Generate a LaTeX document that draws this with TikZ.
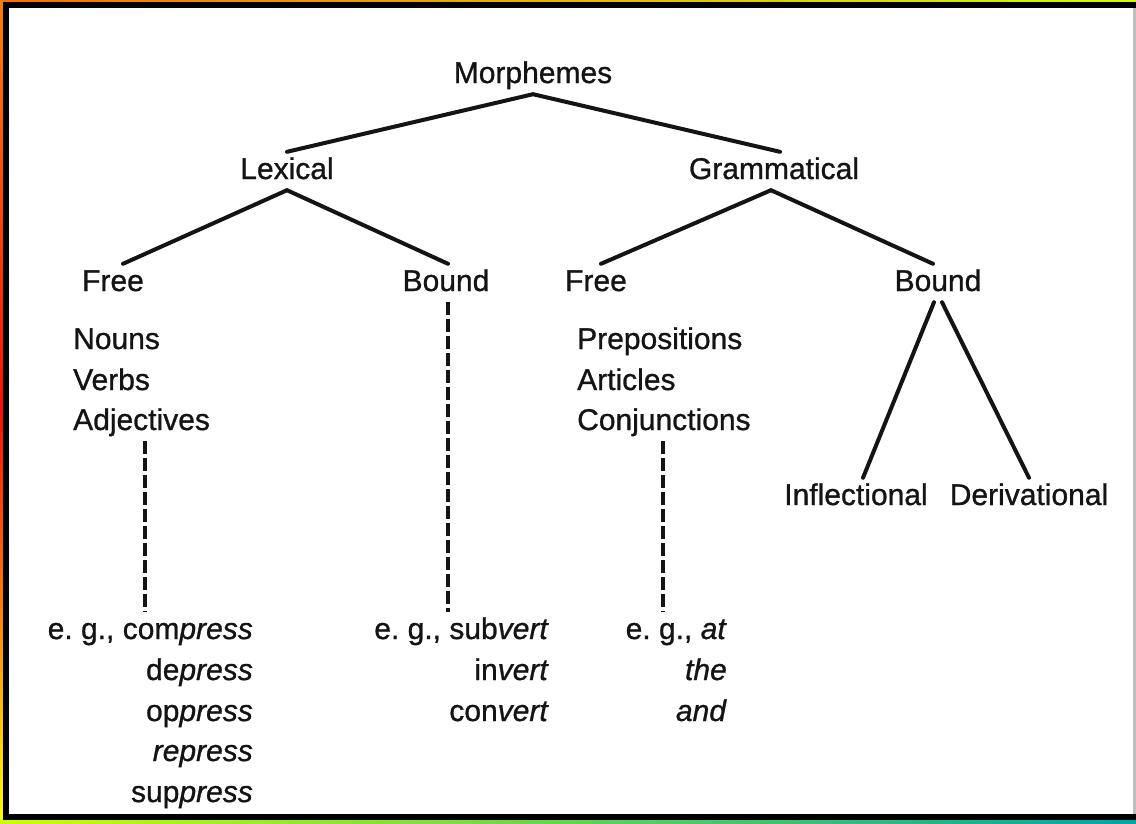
\documentclass[tikz,border=0pt]{standalone}
\usepackage{fontspec}
\setmainfont{Liberation Sans}[UprightFeatures={FakeBold=0.9}, ItalicFeatures={FakeBold=0.9}]
\begin{document}
\begin{tikzpicture}[x=1pt,y=-1pt,
  lbl/.style={font=\fontsize{30}{36}\selectfont, text=black!92, inner xsep=3pt, inner ysep=5pt, text height=22pt, text depth=6pt, anchor=base},
  lblL/.style={lbl, anchor=base west},
  lblR/.style={lbl, anchor=base east},
  branch/.style={line width=4pt, black!92, line cap=round},
  dashline/.style={line width=3.8pt, black!92, dash pattern=on 13pt off 4pt}
]
\useasboundingbox (0,0) rectangle (1136,823);
% coloured rim and frame
\shade[left color=orange!85!red, right color=yellow!80!green] (0,0) rectangle (1136,823);
\shade[top color=orange, bottom color=yellow, middle color=red!90!orange] (0,0) rectangle (3,823);
\shade[left color=yellow!80!green, right color=teal!70!cyan] (0,819) rectangle (1136,823);
\fill[black] (2.5,2) rectangle (1136,820);
\fill[white] (8.5,8) rectangle (1133,814);
\fill[black!25] (1133,8) rectangle (1136,814);

% tree nodes
\node[lbl] (morph) at (533,83) {Morphemes};
\node[lbl] (lex) at (287,179) {Lexical};
\node[lbl] (gram) at (774,179) {Grammatical};
\node[lbl] (free1) at (113,291) {Free};
\node[lbl] (bound1) at (446,291) {Bound};
\node[lbl] (free2) at (596,291) {Free};
\node[lbl] (bound2) at (938,291) {Bound};
\node[lbl] (infl) at (856,505) {Inflectional};
\node[lbl] (deri) at (1029,505) {Derivational};

% word classes
\node[lblL] (nouns) at (70,349) {Nouns};
\node[lblL] (verbs) at (70,390) {Verbs};
\node[lblL] (adj) at (70,430) {Adjectives};
\node[lblL] (prep) at (574,349) {Prepositions};
\node[lblL] (art) at (574,390) {Articles};
\node[lblL] (conj) at (574,430) {Conjunctions};

% examples
\node[lblR] (egA1) at (256,639) {e.\ g., com\textit{press}};
\node[lblR] (egA2) at (256,680) {de\textit{press}};
\node[lblR] (egA3) at (256,721) {op\textit{press}};
\node[lblR] (egA4) at (256,761) {\textit{repress}};
\node[lblR] (egA5) at (256,802) {sup\textit{press}};
\node[lblR] (egB1) at (552,639) {e.\ g., sub\textit{vert}};
\node[lblR] (egB2) at (552,680) {in\textit{vert}};
\node[lblR] (egB3) at (552,721) {con\textit{vert}};
\node[lblR] (egC1) at (730,639) {e.\ g., \textit{at}};
\node[lblR] (egC2) at (730,680) {\textit{the}};
\node[lblR] (egC3) at (730,721) {\textit{and}};

% branches
\draw[branch] (morph.south) -- (lex.north);
\draw[branch] (morph.south) -- ([xshift=6pt]gram.north);
\draw[branch] (lex.south) -- ([xshift=10pt]free1.north);
\draw[branch] (lex.south) -- ([xshift=2pt]bound1.north);
\draw[branch] ([xshift=-3pt]gram.south) -- ([xshift=5pt]free2.north);
\draw[branch] ([xshift=-3pt]gram.south) -- ([xshift=-5pt]bound2.north);
\draw[branch] ([xshift=-4pt]bound2.south) -- ([xshift=7pt]infl.north);
\draw[branch] ([xshift=4pt]bound2.south) -- (deri.north);

% dashed links to examples
\coordinate (colA) at (145,0);
\coordinate (colB) at (448,0);
\coordinate (colC) at (663,0);
\draw[dashline] (colA |- adj.south) -- (colA |- egA1.north);
\draw[dashline] (colB |- bound1.south) -- (colB |- egB1.north);
\draw[dashline] (colC |- conj.south) -- (colC |- egC1.north);
\end{tikzpicture}
\end{document}
